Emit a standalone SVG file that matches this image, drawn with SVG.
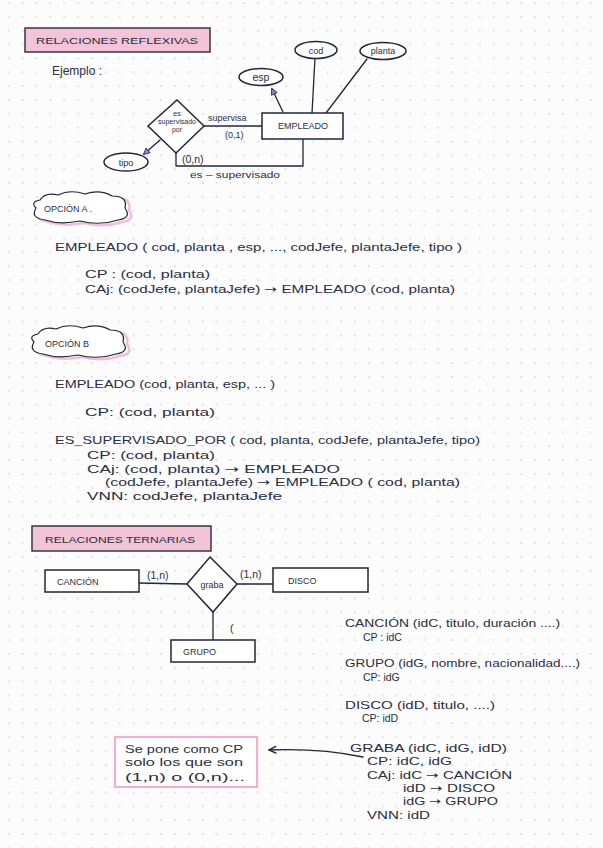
<svg xmlns="http://www.w3.org/2000/svg" width="603" height="848" viewBox="0 0 603 848">
<defs>
<pattern id="dots" x="7.8" y="2" width="13.85" height="13.85" patternUnits="userSpaceOnUse">
<circle cx="1" cy="1" r="0.7" fill="#b4b5bc"/>
</pattern>
<marker id="arr" viewBox="0 0 10 10" refX="9" refY="5" markerWidth="7" markerHeight="7" orient="auto-start-reverse">
<path d="M1,1 L9,5 L1,9" fill="none" stroke="#22263a" stroke-width="1.6"/>
</marker>
<marker id="arrb" viewBox="0 0 10 10" refX="8" refY="5" markerWidth="6" markerHeight="6" orient="auto-start-reverse">
<path d="M1,1 L9,5 L1,9 Z" fill="#7d8fd0" stroke="#22263a" stroke-width="1"/>
</marker>
</defs>
<style>
text{font-family:"Liberation Sans","Noto Sans",sans-serif;fill:#2a2e42}
.t{font-size:10.5px}
.s{font-size:9px}
.xs{font-size:7px}
.ar{font-family:"DejaVu Sans",sans-serif}
.ink{fill:none;stroke:#22263a;stroke-width:1.3;stroke-linecap:round;stroke-linejoin:round}
.box{fill:#fff;stroke:#22263a;stroke-width:1.5}
.title{fill:#f3c3d7;stroke:#3a3346;stroke-width:1.5}
.note{fill:#fff;stroke:#eeb1cf;stroke-width:2.2}
.cloud{fill:#fff;stroke:#22263a;stroke-width:1.2}
.cloudsh{fill:none;stroke:#f1bfd6;stroke-width:2.5}
</style>
<rect width="603" height="848" fill="#fcfcfd"/>
<rect width="603" height="848" fill="url(#dots)"/>

<g id="titulo-reflexivas">
<rect class="title" x="25" y="28" width="185" height="24"/>
<text x="36" y="44" class="s" textLength="162" lengthAdjust="spacingAndGlyphs">RELACIONES REFLEXIVAS</text>
</g>
<text x="52" y="75" font-size="12">Ejemplo :</text>

<g id="connectors">
<path class="ink" d="M315,58 L312,113"/>
<path class="ink" d="M367,59 L326,113"/>
<path class="ink" d="M283,112 L272,89" marker-end="url(#arrb)"/>
<path class="ink" d="M204,126 L262,126"/>
<path class="ink" d="M160,140 L144,154" marker-end="url(#arrb)"/>
<path class="ink" d="M176,153 L176,166 L303,166 L303,139"/>
<path class="ink" d="M139,583 L187,584"/>
<path class="ink" d="M237,584 L273,584"/>
<path class="ink" d="M213,612 L213,640"/>
<path class="ink" d="M363,757 Q320,748 269,750" marker-end="url(#arr)"/>
</g>

<g id="cod"><ellipse class="box" cx="316" cy="50" rx="21" ry="8.5"/><text x="316" y="54" class="s" text-anchor="middle">cod</text></g>
<g id="planta"><ellipse class="box" cx="383" cy="51" rx="23" ry="8.5"/><text x="383" y="54" class="s" text-anchor="middle">planta</text></g>
<g id="esp"><ellipse class="box" cx="261" cy="77" rx="22" ry="8.5"/><text x="261" y="81" class="t" text-anchor="middle">esp</text></g>
<g id="empleado"><rect class="box" x="262" y="113" width="81" height="26"/><text x="303" y="129" class="s" text-anchor="middle">EMPLEADO</text></g>
<g id="es-supervisado-por">
<polygon class="box" points="177,100 204,126 176,153 148,126"/>
<text x="177" y="116" class="xs" text-anchor="middle">es</text>
<text x="177" y="124" class="xs" text-anchor="middle" textLength="38" lengthAdjust="spacingAndGlyphs">supervisado</text>
<text x="177" y="132" class="xs" text-anchor="middle">por</text>
</g>
<g id="tipo"><ellipse class="box" cx="126" cy="162" rx="22" ry="9"/><text x="126" y="166" class="s" text-anchor="middle">tipo</text></g>
<text x="208" y="121" class="s">supervisa</text>
<text x="225" y="138" class="s">(0,1)</text>
<text x="182" y="163" class="t">(0,n)</text>
<text x="190" y="178" class="s" textLength="90" lengthAdjust="spacingAndGlyphs">es – supervisado</text>

<g id="opcion-a">
<path class="cloudsh" d="M44,202 Q49,194 62,197 Q74,191 89,196 Q104,191 116,198 Q132,198 129,210 Q136,220 122,222 Q104,228 84,223 Q64,227 49,222 Q34,220 40,210 Q34,204 44,202 Z"/>
<path class="cloud" d="M40,200 Q45,192 58,195 Q70,189 85,194 Q100,189 112,196 Q128,196 125,208 Q132,218 118,220 Q100,226 80,221 Q60,225 45,220 Q30,218 36,208 Q30,202 40,200 Z"/>
<text x="44" y="212" class="s">OPCIÓN  A .</text>
</g>
<text x="55" y="251" class="t" textLength="407" lengthAdjust="spacingAndGlyphs">EMPLEADO  ( cod, planta , esp, ..., codJefe, plantaJefe, tipo )</text>
<text x="85" y="278" class="t" textLength="125" lengthAdjust="spacingAndGlyphs">CP :  (cod, planta)</text>
<text x="85" y="293" class="t" textLength="370" lengthAdjust="spacingAndGlyphs">CAj: (codJefe, plantaJefe) <tspan class="ar">→</tspan> EMPLEADO (cod, planta)</text>

<g id="opcion-b">
<path class="cloudsh" d="M42,336 Q47,328 60,331 Q72,325 87,330 Q102,325 114,332 Q130,332 127,344 Q134,354 120,356 Q102,362 82,357 Q62,361 47,356 Q32,354 38,344 Q32,338 42,336 Z"/>
<path class="cloud" d="M38,334 Q43,326 56,329 Q68,323 83,328 Q98,323 110,330 Q126,330 123,342 Q130,352 116,354 Q98,360 78,355 Q58,359 43,354 Q28,352 34,342 Q28,336 38,334 Z"/>
<text x="45" y="347" class="s">OPCIÓN  B</text>
</g>
<text x="55" y="388" class="t" textLength="220" lengthAdjust="spacingAndGlyphs">EMPLEADO (cod, planta, esp, ... )</text>
<text x="85" y="416" class="t" textLength="130" lengthAdjust="spacingAndGlyphs">CP:  (cod, planta)</text>
<text x="55" y="444" class="t" textLength="425" lengthAdjust="spacingAndGlyphs">ES_SUPERVISADO_POR  ( cod, planta, codJefe, plantaJefe, tipo)</text>
<text x="87" y="459" class="t" textLength="128" lengthAdjust="spacingAndGlyphs">CP:  (cod, planta)</text>
<text x="87" y="473" class="t" textLength="253" lengthAdjust="spacingAndGlyphs">CAj: (cod, planta) <tspan class="ar">→</tspan> EMPLEADO</text>
<text x="105" y="486" class="t" textLength="355" lengthAdjust="spacingAndGlyphs">(codJefe, plantaJefe) <tspan class="ar">→</tspan> EMPLEADO ( cod, planta)</text>
<text x="87" y="500" class="t" textLength="195" lengthAdjust="spacingAndGlyphs">VNN:  codJefe, plantaJefe</text>

<g id="titulo-ternarias">
<rect class="title" x="32" y="526" width="179" height="25"/>
<text x="45" y="543" class="s" textLength="150" lengthAdjust="spacingAndGlyphs">RELACIONES TERNARIAS</text>
</g>
<g id="cancion"><rect class="box" x="45" y="570" width="94" height="22"/><text x="57" y="585" class="s">CANCIÓN</text></g>
<g id="graba">
<polygon class="box" points="210,557 237,584 213,612 187,584"/>
<text x="212" y="588" class="s" text-anchor="middle">graba</text>
</g>
<g id="disco"><rect class="box" x="273" y="568" width="95" height="24"/><text x="288" y="584" class="s">DISCO</text></g>
<g id="grupo"><rect class="box" x="171" y="640" width="84" height="22"/><text x="183" y="655" class="s">GRUPO</text></g>
<text x="147" y="579" class="t">(1,n)</text>
<text x="240" y="578" class="t">(1,n)</text>
<text x="230" y="632" class="t">(</text>

<text x="345" y="627" class="t" textLength="215" lengthAdjust="spacingAndGlyphs">CANCIÓN (idC, titulo, duración ....)</text>
<text x="363" y="641" class="t">CP : idC</text>
<text x="345" y="667" class="t" textLength="235" lengthAdjust="spacingAndGlyphs">GRUPO (idG, nombre, nacionalidad....)</text>
<text x="363" y="681" class="t">CP: idG</text>
<text x="345" y="709" class="t" textLength="150" lengthAdjust="spacingAndGlyphs">DISCO (idD, titulo, ....)</text>
<text x="362" y="722" class="t">CP: idD</text>

<g id="nota">
<rect class="note" x="115" y="737" width="142" height="50"/>
<text x="125" y="753" class="t" textLength="118" lengthAdjust="spacingAndGlyphs">Se pone como CP</text>
<text x="125" y="766" class="t" textLength="118" lengthAdjust="spacingAndGlyphs">solo los que son</text>
<text x="125" y="781" class="t" textLength="120" lengthAdjust="spacingAndGlyphs">(1,n) o (0,n)...</text>
</g>
<text x="350" y="752" class="t" textLength="157" lengthAdjust="spacingAndGlyphs">GRABA (idC, idG, idD)</text>
<text x="367" y="765" class="t" textLength="85" lengthAdjust="spacingAndGlyphs">CP: idC, idG</text>
<text x="367" y="779" class="t" textLength="145" lengthAdjust="spacingAndGlyphs">CAj: idC <tspan class="ar">→</tspan> CANCIÓN</text>
<text x="403" y="792" class="t" textLength="92" lengthAdjust="spacingAndGlyphs">idD <tspan class="ar">→</tspan> DISCO</text>
<text x="403" y="805" class="t" textLength="95" lengthAdjust="spacingAndGlyphs">idG <tspan class="ar">→</tspan> GRUPO</text>
<text x="367" y="819" class="t" textLength="63" lengthAdjust="spacingAndGlyphs">VNN: idD</text>
</svg>
